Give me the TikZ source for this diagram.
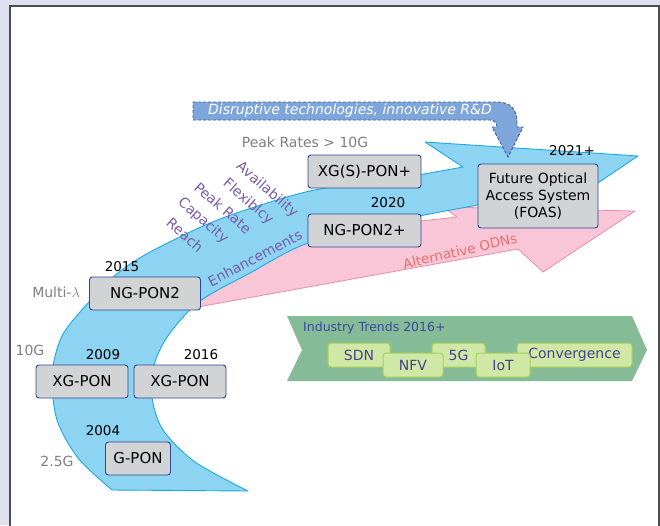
\documentclass[tikz,border=0pt]{standalone}
\usepackage{fontspec}
\setmainfont{DejaVu Sans}
\usepackage{tikz}
\usepackage{xcolor}
\usetikzlibrary{calc,positioning}

\definecolor{panelbg}{HTML}{DFE1F0}
\definecolor{frameline}{HTML}{4D4D4F}
\definecolor{flowfill}{HTML}{8DD3F2}
\definecolor{flowline}{HTML}{1CA9E1}
\definecolor{odnfill}{HTML}{F8C6D6}
\definecolor{odnline}{HTML}{EE8DAA}
\definecolor{odntext}{HTML}{E8706B}
\definecolor{rdfill}{HTML}{7FA6DA}
\definecolor{rdline}{HTML}{3D5CA6}
\definecolor{boxfill}{HTML}{D1D3D4}
\definecolor{boxline}{HTML}{2E4494}
\definecolor{enhtext}{HTML}{7A5CA8}
\definecolor{ratetext}{HTML}{808080}
\definecolor{trendfill}{HTML}{85BB97}
\definecolor{tagfill}{HTML}{D0E8A5}
\definecolor{tagline}{HTML}{A6CF58}
\definecolor{tagtext}{HTML}{4A3F8E}
\definecolor{trendtext}{HTML}{3A4C9C}

\begin{document}
\begin{tikzpicture}[x=1pt,y=-1pt,
  ponbox/.style={draw=boxline,fill=boxfill,line width=0.9pt,rounded corners=3pt,minimum height=33pt,inner sep=0pt,font=\fontsize{15}{18}\selectfont},
  year/.style={font=\fontsize{13.5}{16}\selectfont,text=black},
  rate/.style={font=\fontsize{14}{17}\selectfont,text=ratetext},
  enh/.style={font=\fontsize{14}{17}\selectfont,text=enhtext,inner sep=0pt},
  tag/.style={draw=tagline,fill=tagfill,line width=1pt,rounded corners=3pt,minimum height=24pt,inner sep=0pt,font=\fontsize{14}{17}\selectfont,text=tagtext}]
\useasboundingbox (0,0) rectangle (660,525);
\fill[panelbg] (0,0) rectangle (660,525);
\clip (0,0) rectangle (660,525);
\filldraw[fill=white,draw=frameline,line width=1.6pt] (10,6) rectangle (659,540);

% alternative ODN arrow
\filldraw[fill=odnfill,draw=odnline,line width=0.8pt,line join=round]
  (198,294) -- (308,240) -- (421,221) -- (457,217) -- (443,207) -- (635,211)
  -- (543,272) -- (518,249) -- (198,307) -- cycle;

% main evolution arrow
\filldraw[fill=flowfill,draw=flowline,line width=0.9pt,line join=round]
  plot[smooth] coordinates {(112,490) (78,458) (57,420) (52,375) (62,336) (88,303)
    (118,273) (152,251) (220,219) (310,191) (400,178) (463,167)}
  -- (425,142) -- (638,156) -- (565,205)
  -- plot[smooth] coordinates {(478,205) (400,220) (308,243) (250,273) (200,301)
    (170,333) (155,362) (152,397) (163,430) (195,462) (248,491)}
  -- cycle;

% R&D arrow
\filldraw[fill=rdfill,draw=rdline,line width=0.9pt,dash pattern=on 3pt off 2pt]
  (193,102) -- (497,102) .. controls (511,102) and (517,110) .. (517,122)
  -- (517,127) -- (523,127) -- (508,157) -- (492,127) -- (497,127)
  .. controls (497,123) and (494,120) .. (490,120) -- (193,120) -- cycle;
\node[font=\itshape\fontsize{14}{17}\selectfont,text=white] (rd) at (350,111) {Disruptive technologies, innovative R\&D};

% systems
\node[ponbox,minimum width=113pt] (xgsplus) at (364.5,171.5) {XG(S)-PON+};
\node[ponbox,minimum width=113pt] (ngplus) at (364.5,230.5) {NG-PON2+};
\node[ponbox,minimum width=120pt,minimum height=64pt,align=center,font=\fontsize{14}{16.7}\selectfont] (foas) at (538,196) {Future Optical\\Access System\\(FOAS)};
\node[ponbox,minimum width=111pt] (ngpon) at (145,293.5) {NG-PON2};
\node[ponbox,minimum width=92pt] (xgpon) at (82,381.5) {XG-PON};
\node[ponbox,minimum width=92pt] (xgponb) at (180,381.5) {XG-PON};
\node[ponbox,minimum width=65pt] (gpon) at (138,458.5) {G-PON};

% years
\node[year] (y2015) at (122,267) {2015};
\node[year] (y2009) at (103,355) {2009};
\node[year] (y2016) at (201,355) {2016};
\node[year] (y2004) at (103,431) {2004};
\node[year] (y2020) at (388,203) {2020};
\node[year] (y2021) at (572,151) {2021+};

% rates
\node[rate] (peak) at (305,142) {Peak Rates > 10G};
\node[rate] (multi) at (56,292) {Multi-$\lambda$};
\node[rate] (r10g) at (30,350) {10G};
\node[rate] (r25g) at (57,461) {2.5G};

% enhancements
\node[enh,rotate=-41] (avail) at (267,190) {Availability};
\node[enh,rotate=-41] (flex) at (248,202) {Flexiblcy};
\node[enh,rotate=-41] (prate) at (223,208) {Peak Rate};
\node[enh,rotate=-41] (cap) at (203,221) {Capacity};
\node[enh,rotate=-41] (reach) at (185,235) {Reach};
\node[enh,rotate=28] (enhance) at (255,258) {Enhancements};
\node[font=\fontsize{13.5}{16}\selectfont,text=odntext,rotate=13,inner sep=0pt] (odn) at (460,251) {Alternative ODNs};

% industry trends
\fill[trendfill] (287,316) -- (632,316) -- (647,350) -- (632,381) -- (287,381) -- (302,350) -- cycle;
\node[anchor=west,font=\fontsize{12.5}{15}\selectfont,text=trendtext,inner sep=0pt] (trends) at (303,328) {Industry Trends 2016+};
\node[tag,minimum width=62pt] (sdn) at (359,355) {SDN};
\node[tag,minimum width=53pt] (fiveg) at (458.5,355) {5G};
\node[tag,minimum width=115pt] (conv) at (574.5,355) {Convergence};
\node[tag,minimum width=60pt] (nfv) at (413,365) {NFV};
\node[tag,minimum width=54pt] (iot) at (503,365) {IoT};
\end{tikzpicture}
\end{document}
